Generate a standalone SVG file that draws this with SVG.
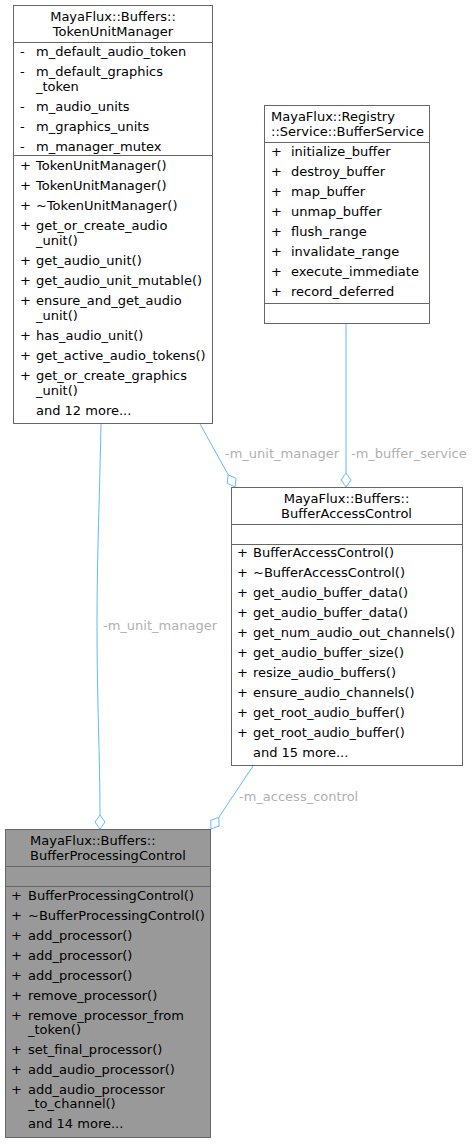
<svg xmlns="http://www.w3.org/2000/svg" width="473" height="1144" viewBox="0 0 473 1144">
<style>
.bg{fill:#ffffff}
.box{fill:#ffffff;stroke:#666666;stroke-width:1}
.hl{fill:#999999}
.div{stroke:#666666;stroke-width:1}
text{font-family:"DejaVu Sans","Liberation Sans",sans-serif;font-size:13px;fill:#000000}
.c{text-anchor:middle}
.edge{fill:none;stroke:#63b8ff;stroke-width:1}
.head{fill:#ffffff;stroke:#63b8ff;stroke-width:1}
.lbl{fill:#b0b0b0}
</style>
<rect class="bg" x="0" y="0" width="473" height="1144"/>

<g id="connectors">
  <path class="edge" d="M101,424 C99,520 97,560 97,625 C97,700 100,760 100,815"/>
  <polygon class="head" points="100,829 105,822 100,815 95,822"/>
  <text class="lbl" x="103" y="630">-m_unit_manager</text>

  <path class="edge" d="M200,424 L228.2,474.7"/>
  <polygon class="head" points="235,487 236,478.5 228.2,474.7 227.2,483.3"/>
  <text class="lbl" x="225" y="458">-m_unit_manager</text>

  <path class="edge" d="M346,324 L346,473"/>
  <polygon class="head" points="346,487 351,480 346,473 341,480"/>
  <text class="lbl" x="351" y="458">-m_buffer_service</text>

  <path class="edge" d="M253,766 L218.8,817.4"/>
  <polygon class="head" points="211,829 210.7,820.4 218.8,817.4 219.1,826"/>
  <text class="lbl" x="239" y="801">-m_access_control</text>
</g>

<g id="TokenUnitManager">
  <rect class="box" x="13.5" y="5.5" width="199" height="418"/>
  <text class="c" x="113" y="21">MayaFlux::Buffers::</text>
  <text class="c" x="113" y="36">TokenUnitManager</text>
  <line class="div" x1="13.5" y1="42.5" x2="212.5" y2="42.5"/>
  <text x="20" y="56">-</text><text x="36" y="56">m_default_audio_token</text>
  <text x="20" y="76">-</text><text x="36" y="76">m_default_graphics</text>
  <text x="36" y="91">_token</text>
  <text x="20" y="111">-</text><text x="36" y="111">m_audio_units</text>
  <text x="20" y="131">-</text><text x="36" y="131">m_graphics_units</text>
  <text x="20" y="151">-</text><text x="36" y="151">m_manager_mutex</text>
  <line class="div" x1="13.5" y1="155.5" x2="212.5" y2="155.5"/>
  <text x="20" y="170">+</text><text x="36" y="170">TokenUnitManager()</text>
  <text x="20" y="190">+</text><text x="36" y="190">TokenUnitManager()</text>
  <text x="20" y="210">+</text><text x="36" y="210">~TokenUnitManager()</text>
  <text x="20" y="230">+</text><text x="36" y="230">get_or_create_audio</text>
  <text x="36" y="245">_unit()</text>
  <text x="20" y="265">+</text><text x="36" y="265">get_audio_unit()</text>
  <text x="20" y="285">+</text><text x="36" y="285">get_audio_unit_mutable()</text>
  <text x="20" y="305">+</text><text x="36" y="305">ensure_and_get_audio</text>
  <text x="36" y="320">_unit()</text>
  <text x="20" y="340">+</text><text x="36" y="340">has_audio_unit()</text>
  <text x="20" y="360">+</text><text x="36" y="360">get_active_audio_tokens()</text>
  <text x="20" y="380">+</text><text x="36" y="380">get_or_create_graphics</text>
  <text x="36" y="395">_unit()</text>
  <text x="36" y="415">and 12 more...</text>
</g>

<g id="BufferService">
  <rect class="box" x="264.5" y="105.5" width="165" height="218"/>
  <text x="271" y="121">MayaFlux::Registry</text>
  <text x="271" y="136">::Service::BufferService</text>
  <line class="div" x1="264.5" y1="142.5" x2="429.5" y2="142.5"/>
  <text x="271" y="156">+</text><text x="291" y="156">initialize_buffer</text>
  <text x="271" y="176">+</text><text x="291" y="176">destroy_buffer</text>
  <text x="271" y="196">+</text><text x="291" y="196">map_buffer</text>
  <text x="271" y="216">+</text><text x="291" y="216">unmap_buffer</text>
  <text x="271" y="236">+</text><text x="291" y="236">flush_range</text>
  <text x="271" y="256">+</text><text x="291" y="256">invalidate_range</text>
  <text x="271" y="276">+</text><text x="291" y="276">execute_immediate</text>
  <text x="271" y="296">+</text><text x="291" y="296">record_deferred</text>
  <line class="div" x1="264.5" y1="303.5" x2="429.5" y2="303.5"/>
</g>

<g id="BufferAccessControl">
  <rect class="box" x="231.5" y="487.5" width="231" height="278"/>
  <text class="c" x="346.5" y="503">MayaFlux::Buffers::</text>
  <text class="c" x="346.5" y="518">BufferAccessControl</text>
  <line class="div" x1="231.5" y1="524.5" x2="462.5" y2="524.5"/>
  <line class="div" x1="231.5" y1="544.5" x2="462.5" y2="544.5"/>
  <text x="237" y="557">+</text><text x="253" y="557">BufferAccessControl()</text>
  <text x="237" y="577">+</text><text x="253" y="577">~BufferAccessControl()</text>
  <text x="237" y="597">+</text><text x="253" y="597">get_audio_buffer_data()</text>
  <text x="237" y="617">+</text><text x="253" y="617">get_audio_buffer_data()</text>
  <text x="237" y="637">+</text><text x="253" y="637">get_num_audio_out_channels()</text>
  <text x="237" y="657">+</text><text x="253" y="657">get_audio_buffer_size()</text>
  <text x="237" y="677">+</text><text x="253" y="677">resize_audio_buffers()</text>
  <text x="237" y="697">+</text><text x="253" y="697">ensure_audio_channels()</text>
  <text x="237" y="717">+</text><text x="253" y="717">get_root_audio_buffer()</text>
  <text x="237" y="737">+</text><text x="253" y="737">get_root_audio_buffer()</text>
  <text x="253" y="757">and 15 more...</text>
</g>

<g id="BufferProcessingControl">
  <rect class="box hl" x="5.5" y="829.5" width="205" height="308"/>
  <text x="30" y="845">MayaFlux::Buffers::</text>
  <text x="30" y="860">BufferProcessingControl</text>
  <line class="div" x1="5.5" y1="866.5" x2="210.5" y2="866.5"/>
  <line class="div" x1="5.5" y1="886.5" x2="210.5" y2="886.5"/>
  <text x="11" y="900">+</text><text x="28" y="900">BufferProcessingControl()</text>
  <text x="11" y="920">+</text><text x="28" y="920">~BufferProcessingControl()</text>
  <text x="11" y="940">+</text><text x="28" y="940">add_processor()</text>
  <text x="11" y="960">+</text><text x="28" y="960">add_processor()</text>
  <text x="11" y="980">+</text><text x="28" y="980">add_processor()</text>
  <text x="11" y="1000">+</text><text x="28" y="1000">remove_processor()</text>
  <text x="11" y="1020">+</text><text x="28" y="1020">remove_processor_from</text>
  <text x="28" y="1034">_token()</text>
  <text x="11" y="1054">+</text><text x="28" y="1054">set_final_processor()</text>
  <text x="11" y="1074">+</text><text x="28" y="1074">add_audio_processor()</text>
  <text x="11" y="1094">+</text><text x="28" y="1094">add_audio_processor</text>
  <text x="28" y="1108">_to_channel()</text>
  <text x="28" y="1128">and 14 more...</text>
</g>
</svg>
